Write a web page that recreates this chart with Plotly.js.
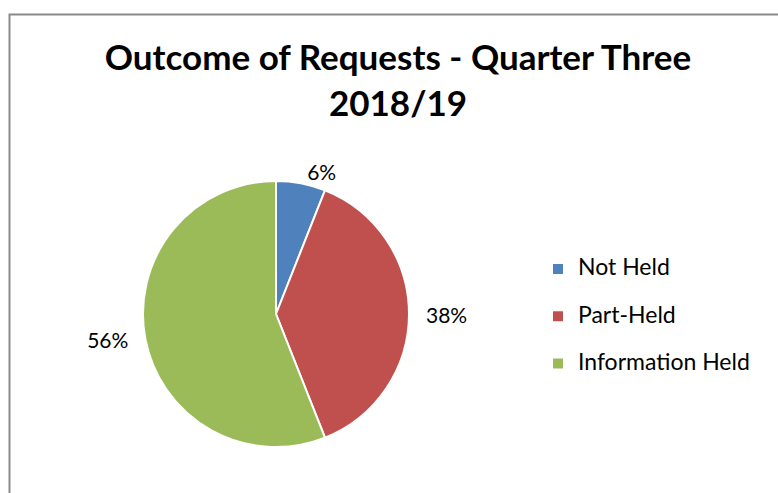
<!DOCTYPE html>
<html><head><meta charset="utf-8">
<script src="https://cdn.plot.ly/plotly-3.0.1.min.js"></script>
<style>html,body{margin:0;padding:0;background:#fff;}#chart{width:778px;height:493px;}</style>
</head><body><div id="chart"></div>
<script>
const categories = ["Not Held", "Part-Held", "Information Held"];
const percentValues = [6, 38, 56];
const percentLabels = ["6%", "38%", "56%"];
const sliceColors = ["#4F81BD", "#C0504D", "#9BBB59"];
const chartTitle = "Outcome of Requests - Quarter Three<br>2018/19";

const FONT = "Lato, 'Open Sans', sans-serif";
const NB = "&nbsp;";

// small text padding so the outside labels sit where the reference puts them
const labelText = [
  percentLabels[0],
  NB + NB + percentLabels[1],
  percentLabels[2] + NB + NB
];

const trace = {
  type: "pie",
  labels: categories.map(c => '<span style="font-size:23px;baseline-shift:7px">' + c + '</span>'),
  values: percentValues,
  text: labelText,
  textinfo: "text",
  textposition: "outside",
  outsidetextfont: {family: FONT, size: 21, color: "#000"},
  sort: false,
  direction: "clockwise",
  rotation: 0,
  marker: {colors: sliceColors, line: {color: "#fff", width: 2}},
  domain: {x: [143/778, 409/778], y: [(493-447)/493, (493-181)/493]},
  hoverinfo: "label+percent"
};

const layout = {
  width: 778, height: 493,
  margin: {l: 0, r: 0, t: 0, b: 0},
  paper_bgcolor: "#fff",
  font: {family: FONT, color: "#000"},
  title: {
    text: chartTitle,
    font: {family: FONT, size: 35, color: "#000", weight: "bold"},
    x: 398/778, xanchor: "center",
    y: 1 - 70/493, yanchor: "top", yref: "container"
  },
  showlegend: true,
  legend: {
    x: 538/778, xanchor: "left",
    y: (493-316.5)/493, yanchor: "middle",
    font: {family: FONT, size: 34, color: "#000"},
    bgcolor: "rgba(0,0,0,0)"
  },
  shapes: [{
    type: "rect", xref: "paper", yref: "paper",
    x0: 9.5/778, x1: 1.2, y0: -0.2, y1: (493-14.5)/493,
    line: {color: "#8a8a8a", width: 2}, fillcolor: "rgba(0,0,0,0)"
  }]
};

Plotly.newPlot("chart", [trace], layout, {displayModeBar: false, staticPlot: true});
</script></body></html>
